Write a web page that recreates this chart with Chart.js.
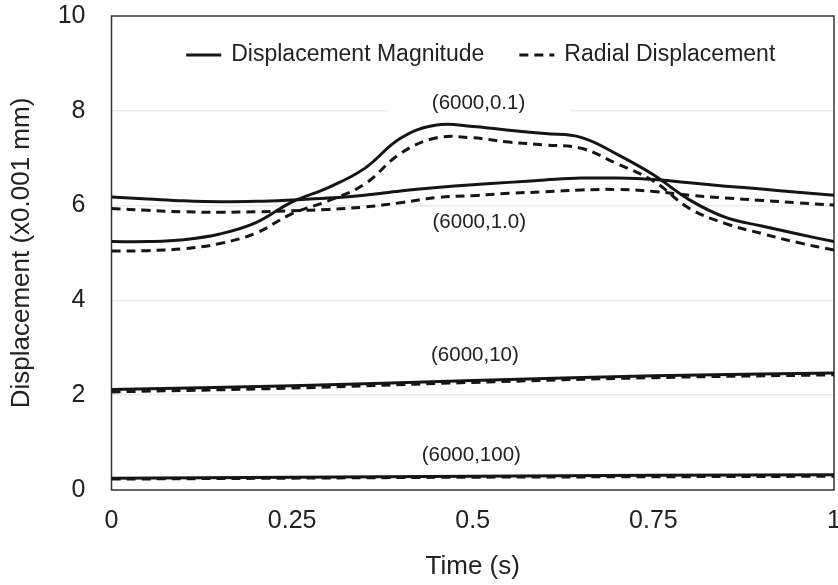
<!DOCTYPE html>
<html>
<head>
<meta charset="utf-8">
<script src="https://cdn.jsdelivr.net/npm/chart.js@4.4.1/dist/chart.umd.min.js"></script>
<style>
  html, body { margin: 0; padding: 0; background: #fff; }
  #wrap { width: 838px; height: 585px; }
</style>
</head>
<body>
<div id="wrap"><canvas id="disp_canvas"></canvas></div>
<script>
// time axis for the two low-frequency-ratio cases, and a coarse one for the flat cases
const time_s = [0, 0.05, 0.1, 0.15, 0.2, 0.25, 0.3, 0.35, 0.4, 0.45, 0.5,
                0.55, 0.6, 0.65, 0.7, 0.75, 0.8, 0.85, 0.9, 0.95, 1];
const time_coarse = [0, 0.25, 0.5, 0.75, 1];

// (6000,0.1)
const mag_01 = [5.24, 5.24, 5.28, 5.40, 5.64, 6.08, 6.38, 6.78, 7.42, 7.70, 7.67,
                7.59, 7.52, 7.44, 7.08, 6.65, 6.12, 5.75, 5.57, 5.40, 5.24];
const rad_01 = [5.04, 5.05, 5.09, 5.20, 5.42, 5.83, 6.10, 6.45, 7.10, 7.43, 7.43,
                7.34, 7.28, 7.21, 6.88, 6.52, 5.94, 5.62, 5.41, 5.22, 5.06];
// (6000,1.0)
const mag_1 = [6.18, 6.14, 6.10, 6.08, 6.09, 6.12, 6.16, 6.22, 6.31, 6.38, 6.44,
               6.49, 6.54, 6.58, 6.58, 6.55, 6.48, 6.41, 6.35, 6.28, 6.22];
const rad_1 = [5.94, 5.90, 5.87, 5.86, 5.87, 5.89, 5.92, 5.97, 6.06, 6.17, 6.21,
               6.26, 6.29, 6.33, 6.34, 6.30, 6.22, 6.16, 6.11, 6.06, 6.01];
// (6000,10)
const mag_10 = [2.12, 2.20, 2.31, 2.41, 2.47];
const rad_10 = [2.07, 2.15, 2.27, 2.37, 2.43];
// (6000,100)
const mag_100 = [0.25, 0.27, 0.29, 0.31, 0.32];
const rad_100 = [0.23, 0.25, 0.27, 0.28, 0.29];

const x_ticks = [0, 0.25, 0.5, 0.75, 1];
const y_ticks = [0, 2, 4, 6, 8, 10];

const series_labels = ['Displacement Magnitude', 'Radial Displacement'];
const case_labels = ['(6000,0.1)', '(6000,1.0)', '(6000,10)', '(6000,100)'];
const case_label_t = [0.508, 0.509, 0.503, 0.498];
const case_label_y = [8.15, 5.65, 2.85, 0.74];

const FONT = '"Liberation Sans", Arial, Helvetica, sans-serif';
const INK = '#151515';
const DASH = [9, 6];

function to_points(xs, ys) {
  return xs.map((x, i) => ({x: x, y: ys[i]}));
}

function make_dataset(label, xs, ys, dashed) {
  return {
    label: label,
    data: to_points(xs, ys),
    borderColor: INK,
    borderWidth: 3,
    borderDash: dashed ? DASH : [],
    pointRadius: 0,
    fill: false,
    tension: 0.4
  };
}

const datasets = [
  make_dataset(series_labels[0], time_s, mag_01, false),
  make_dataset(series_labels[1], time_s, rad_01, true),
  make_dataset(series_labels[0], time_s, mag_1, false),
  make_dataset(series_labels[1], time_s, rad_1, true),
  make_dataset(series_labels[0], time_coarse, mag_10, false),
  make_dataset(series_labels[1], time_coarse, rad_10, true),
  make_dataset(series_labels[0], time_coarse, mag_100, false),
  make_dataset(series_labels[1], time_coarse, rad_100, true)
];

// box round the plot, case labels and the in-plot legend
const frame_and_labels = {
  id: 'frame_and_labels',
  beforeDatasetsDraw(chart) {
    const {ctx, chartArea: a, scales: {x, y}} = chart;
    ctx.save();
    ctx.font = '20.5px ' + FONT;
    ctx.textAlign = 'center';
    ctx.textBaseline = 'middle';
    case_labels.forEach((txt, i) => {
      const px = x.getPixelForValue(case_label_t[i]);
      const py = y.getPixelForValue(case_label_y[i]);
      const w = ctx.measureText(txt).width;
      ctx.fillStyle = '#fff';
      ctx.fillRect(px - w / 2 - 44, py - 9, w + 88, 18);
      ctx.fillStyle = '#222';
      ctx.fillText(txt, px, py);
    });
    ctx.strokeStyle = '#333';
    ctx.lineWidth = 1.5;
    ctx.strokeRect(a.left, a.top, a.width, a.height);
    ctx.restore();
  },
  afterDatasetsDraw(chart) {
    const {ctx, chartArea: a} = chart;
    const sample = 35, gap = 10, spacing = 35;
    ctx.save();
    ctx.font = '23px ' + FONT;
    ctx.textBaseline = 'middle';
    const items = [chart.data.datasets[0], chart.data.datasets[1]];
    const widths = items.map(d => sample + gap + ctx.measureText(d.label).width);
    const total = widths[0] + spacing + widths[1];
    let cx = (a.left + a.right) / 2 + 8 - total / 2;
    const cy = a.top + 39;
    items.forEach((d, i) => {
      ctx.strokeStyle = d.borderColor;
      ctx.lineWidth = d.borderWidth;
      ctx.setLineDash(d.borderDash);
      ctx.beginPath();
      ctx.moveTo(cx, cy);
      ctx.lineTo(cx + sample, cy);
      ctx.stroke();
      ctx.setLineDash([]);
      ctx.fillStyle = '#222';
      ctx.fillText(d.label, cx + sample + gap, cy);
      cx += widths[i] + spacing;
    });
    ctx.restore();
  }
};

new Chart(document.getElementById('disp_canvas'), {
  type: 'line',
  data: {datasets: datasets},
  options: {
    responsive: true,
    maintainAspectRatio: false,
    animation: false,
    layout: {padding: {top: 16, right: 4, left: 0, bottom: 0}},
    plugins: {legend: {display: false}, tooltip: {enabled: false}},
    scales: {
      x: {
        type: 'linear',
        min: 0,
        max: 1,
        afterBuildTicks: s => { s.ticks = x_ticks.map(v => ({value: v})); },
        afterFit: s => { s.height = 95; s.paddingLeft = 0; s.paddingRight = 0; },
        ticks: {
          padding: 16,
          color: '#222',
          font: {family: FONT, size: 25},
          callback: v => String(v)
        },
        grid: {display: false, drawTicks: false},
        border: {display: false},
        title: {
          display: true,
          text: 'Time (s)',
          color: '#222',
          font: {family: FONT, size: 26},
          padding: {top: 0, bottom: 3}
        }
      },
      y: {
        min: 0,
        max: 10,
        afterBuildTicks: s => { s.ticks = y_ticks.map(v => ({value: v})); },
        afterFit: s => { s.width = 111.5; s.paddingTop = 0; s.paddingBottom = 0; },
        ticks: {
          padding: 26,
          color: '#222',
          font: {family: FONT, size: 25},
          callback: v => String(v)
        },
        grid: {
          drawTicks: false,
          color: ctx => (ctx.tick.value === 0 || ctx.tick.value === 10) ? 'rgba(0,0,0,0)' : '#ececec',
          lineWidth: 1.5
        },
        border: {display: false},
        title: {
          display: true,
          text: 'Displacement (x0.001 mm)',
          color: '#222',
          font: {family: FONT, size: 26},
          padding: {top: 6, bottom: 0}
        }
      }
    }
  },
  plugins: [frame_and_labels]
});
</script>
</body>
</html>
